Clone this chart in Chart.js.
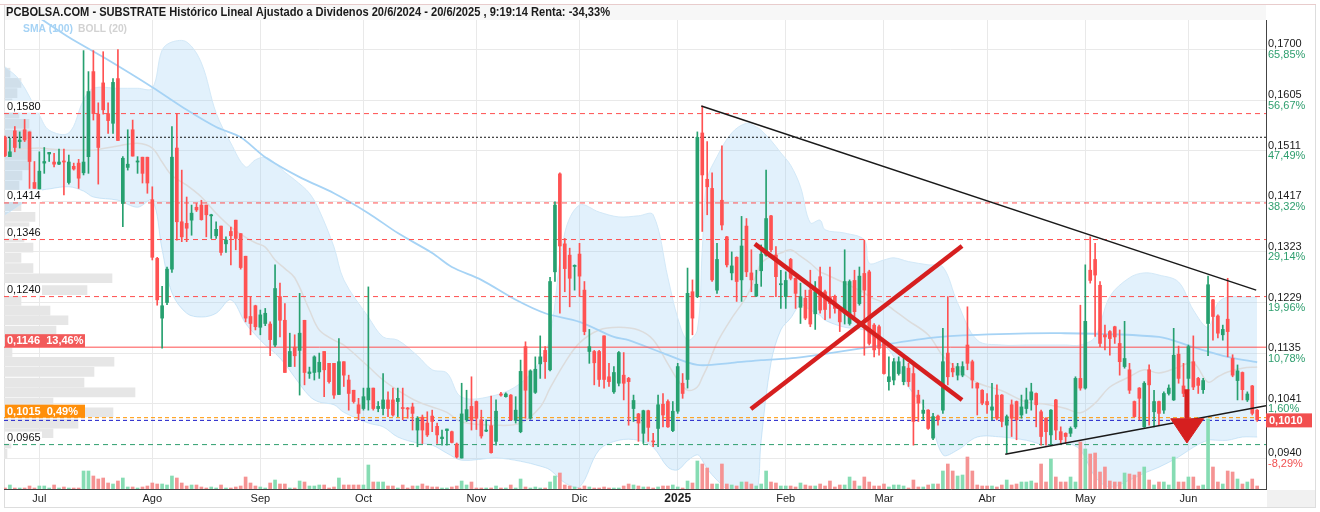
<!DOCTYPE html>
<html>
<head>
<meta charset="utf-8">
<script src="https://cdn.jsdelivr.net/npm/chart.js@4.4.1/dist/chart.umd.min.js"></script>
<style>
  html, body { margin: 0; padding: 0; background: #fff; }
  #wrap { width: 1320px; height: 512px; }
</style>
</head>
<body>
<div id="wrap"><canvas id="chart" width="1320" height="512"></canvas></div>
<script>
// Daily candles, 20/6/2024 - 20/6/2025 (index = trading day)
const opens = [
  0.1536,0.1500,0.1548,0.1528,0.1550,0.1546,0.1452,0.1440,0.1488,0.1505,
  0.1490,0.1486,0.1492,0.1452,0.1482,0.1488,0.1470,0.1500,0.1658,0.1579,
  0.1637,0.1580,0.1562,0.1645,0.1413,0.1480,0.1550,0.1490,0.1499,0.1499,
  0.1420,0.1311,0.1200,0.1229,0.1291,0.1516,0.1379,0.1376,0.1382,0.1406,
  0.1410,0.1410,0.1390,0.1353,0.1371,0.1338,0.1361,0.1382,0.1357,0.1315,
  0.1203,0.1223,0.1183,0.1190,0.1189,0.1150,0.1240,0.1196,0.1110,0.1146,
  0.1140,0.1196,0.1097,0.1099,0.1100,0.1138,0.1116,0.1116,0.1058,0.1119,
  0.1085,0.1066,0.1039,0.1032,0.1048,0.1070,0.1032,0.1032,0.1048,0.1048,
  0.1045,0.1033,0.1033,0.1035,0.0992,0.1016,0.1005,0.1018,0.0999,0.0976,
  0.0991,0.0989,0.0966,0.0940,0.1011,0.1036,0.1045,0.1011,0.0990,0.1000,
  0.0971,0.1059,0.1054,0.1057,0.1010,0.0989,0.1147,0.1014,0.1062,0.1115,
  0.1140,0.1104,0.1286,0.1468,0.1338,0.1317,0.1296,0.1319,0.1252,0.1138,
  0.1138,0.1138,0.1167,0.1091,0.1063,0.1079,0.1094,0.1088,0.1032,0.1022,
  0.0986,0.1028,0.0971,0.0995,0.1040,0.1045,0.0991,0.1027,0.1079,0.1086,
  0.1249,0.1240,0.1544,0.1458,0.1441,0.1252,0.1419,0.1351,0.1284,0.1313,
  0.1271,0.1371,0.1284,0.1241,0.1288,0.1317,0.1390,0.1317,0.1262,0.1240,
  0.1309,0.1274,0.1220,0.1237,0.1252,0.1208,0.1277,0.1249,0.1240,0.1239,
  0.1215,0.1209,0.1190,0.1270,0.1227,0.1283,0.1286,0.1187,0.1184,0.1153,
  0.1082,0.1085,0.1097,0.1082,0.1107,0.1097,0.1057,0.1023,0.1029,0.0977,
  0.1018,0.1029,0.1135,0.1107,0.1094,0.1094,0.1150,0.1119,0.1079,0.1066,
  0.1045,0.1029,0.1057,0.1057,0.1001,0.1039,0.1045,0.1020,0.1032,0.1048,
  0.1060,0.1026,0.1014,0.0983,0.1048,0.0989,0.0986,0.0986,0.0998,0.1088,
  0.1070,0.1289,0.1309,0.1261,0.1169,0.1175,0.1184,0.1153,0.1110,0.1104,
  0.1045,0.1070,0.0998,0.1104,0.1026,0.1045,0.1029,0.1060,0.1048,0.1133,
  0.1074,0.1088,0.1119,0.1088,0.1067,0.1190,0.1234,0.1204,0.1169,0.1198,
  0.1125,0.1084,0.1099,0.1048,0.1074,0.1029
];
const highs = [
  0.1538,0.1534,0.1556,0.1546,0.1569,0.1546,0.1491,0.1509,0.1517,0.1508,
  0.1506,0.1514,0.1514,0.1503,0.1488,0.1495,0.1697,0.1658,0.1697,0.1600,
  0.1695,0.1600,0.1645,0.1699,0.1500,0.1550,0.1568,0.1500,0.1499,0.1499,
  0.1444,0.1313,0.1259,0.1295,0.1556,0.1580,0.1475,0.1425,0.1410,0.1413,
  0.1419,0.1410,0.1393,0.1379,0.1371,0.1351,0.1369,0.1382,0.1357,0.1315,
  0.1240,0.1224,0.1215,0.1218,0.1193,0.1299,0.1265,0.1227,0.1172,0.1169,
  0.1246,0.1196,0.1109,0.1130,0.1135,0.1138,0.1116,0.1116,0.1162,0.1119,
  0.1094,0.1066,0.1051,0.1070,0.1258,0.1070,0.1045,0.1097,0.1063,0.1070,
  0.1070,0.1070,0.1034,0.1042,0.1017,0.1020,0.1026,0.1029,0.1005,0.0992,
  0.0994,0.0990,0.0968,0.1079,0.1066,0.1091,0.1046,0.1029,0.1011,0.1055,
  0.1048,0.1062,0.1061,0.1058,0.1054,0.1122,0.1156,0.1104,0.1128,0.1167,
  0.1147,0.1276,0.1416,0.1470,0.1348,0.1330,0.1299,0.1339,0.1268,0.1179,
  0.1140,0.1140,0.1167,0.1116,0.1110,0.1138,0.1136,0.1090,0.1057,0.1023,
  0.1029,0.1029,0.0986,0.1057,0.1060,0.1048,0.1045,0.1116,0.1097,0.1293,
  0.1271,0.1546,0.1594,0.1528,0.1470,0.1339,0.1520,0.1352,0.1323,0.1314,
  0.1389,0.1385,0.1327,0.1289,0.1336,0.1475,0.1391,0.1333,0.1289,0.1286,
  0.1311,0.1275,0.1265,0.1252,0.1289,0.1268,0.1295,0.1252,0.1295,0.1243,
  0.1221,0.1327,0.1271,0.1289,0.1295,0.1345,0.1289,0.1190,0.1187,0.1159,
  0.1128,0.1125,0.1128,0.1128,0.1116,0.1116,0.1066,0.1048,0.1030,0.1023,
  0.1020,0.1181,0.1240,0.1116,0.1116,0.1119,0.1221,0.1122,0.1080,0.1067,
  0.1060,0.1079,0.1076,0.1058,0.1020,0.1048,0.1046,0.1057,0.1070,0.1079,
  0.1061,0.1029,0.1015,0.1030,0.1049,0.0998,0.0987,0.0998,0.1091,0.1224,
  0.1299,0.1351,0.1339,0.1268,0.1187,0.1177,0.1185,0.1178,0.1194,0.1116,
  0.1046,0.1071,0.1082,0.1113,0.1066,0.1046,0.1063,0.1076,0.1181,0.1148,
  0.1116,0.1150,0.1167,0.1090,0.1088,0.1278,0.1235,0.1206,0.1187,0.1274,
  0.1132,0.1113,0.1100,0.1063,0.1075,0.1030
];
const lows = [
  0.1500,0.1500,0.1509,0.1516,0.1528,0.1441,0.1441,0.1440,0.1469,0.1491,
  0.1481,0.1485,0.1429,0.1449,0.1475,0.1441,0.1466,0.1469,0.1568,0.1449,
  0.1579,0.1543,0.1543,0.1530,0.1370,0.1475,0.1501,0.1469,0.1451,0.1432,
  0.1308,0.1224,0.1144,0.1225,0.1285,0.1345,0.1342,0.1342,0.1354,0.1398,
  0.1382,0.1351,0.1348,0.1348,0.1317,0.1322,0.1299,0.1327,0.1291,0.1193,
  0.1169,0.1178,0.1169,0.1186,0.1130,0.1147,0.1165,0.1099,0.1110,0.1110,
  0.1057,0.1076,0.1088,0.1085,0.1088,0.1054,0.1079,0.1051,0.1058,0.1073,
  0.1029,0.1042,0.1011,0.1029,0.1029,0.1029,0.1026,0.1020,0.1017,0.1018,
  0.1017,0.1011,0.1014,0.0992,0.0961,0.0967,0.0980,0.0989,0.0967,0.0964,
  0.0964,0.0968,0.0940,0.0940,0.1008,0.0992,0.0993,0.0977,0.0989,0.0949,
  0.0964,0.1055,0.1053,0.1010,0.1005,0.0987,0.1014,0.1012,0.1060,0.1088,
  0.1088,0.1102,0.1268,0.1209,0.1249,0.1221,0.1252,0.1240,0.1169,0.1116,
  0.1076,0.1073,0.1070,0.1073,0.1060,0.1074,0.1048,0.1001,0.1008,0.0971,
  0.0967,0.0971,0.0961,0.0961,0.0998,0.0997,0.0989,0.1023,0.1051,0.1070,
  0.1169,0.1238,0.1361,0.1392,0.1268,0.1246,0.1364,0.1295,0.1271,0.1231,
  0.1231,0.1277,0.1249,0.1240,0.1259,0.1315,0.1323,0.1240,0.1218,0.1218,
  0.1271,0.1218,0.1190,0.1197,0.1184,0.1179,0.1209,0.1197,0.1200,0.1209,
  0.1175,0.1189,0.1187,0.1203,0.1224,0.1131,0.1150,0.1128,0.1131,0.1096,
  0.1066,0.1076,0.1094,0.1076,0.1073,0.0964,0.1008,0.1011,0.0993,0.0974,
  0.1001,0.1023,0.1076,0.1091,0.1085,0.1091,0.1104,0.1070,0.1020,0.1039,
  0.1023,0.1011,0.1011,0.0998,0.0949,0.0980,0.0974,0.1014,0.1023,0.1029,
  0.0998,0.0964,0.0964,0.0964,0.0974,0.0967,0.0967,0.0980,0.0995,0.1066,
  0.1068,0.1265,0.1166,0.1147,0.1141,0.1131,0.1153,0.1094,0.1107,0.1060,
  0.1016,0.1011,0.0997,0.1001,0.0998,0.1001,0.1023,0.1057,0.1047,0.1079,
  0.1054,0.1066,0.1067,0.1060,0.1060,0.1130,0.1159,0.1163,0.1159,0.1128,
  0.1091,0.1048,0.1048,0.1045,0.1020,0.1008
];
const closes = [
  0.1502,0.1509,0.1517,0.1531,0.1531,0.1491,0.1441,0.1473,0.1491,0.1508,
  0.1486,0.1490,0.1490,0.1490,0.1477,0.1460,0.1490,0.1621,0.1580,0.1517,
  0.1587,0.1567,0.1638,0.1530,0.1497,0.1486,0.1501,0.1492,0.1469,0.1451,
  0.1313,0.1234,0.1223,0.1291,0.1499,0.1379,0.1351,0.1367,0.1395,0.1401,
  0.1383,0.1392,0.1392,0.1365,0.1322,0.1345,0.1353,0.1348,0.1294,0.1200,
  0.1190,0.1184,0.1206,0.1209,0.1160,0.1255,0.1196,0.1099,0.1138,0.1130,
  0.1172,0.1099,0.1100,0.1128,0.1118,0.1104,0.1082,0.1057,0.1119,0.1094,
  0.1060,0.1045,0.1023,0.1054,0.1070,0.1032,0.1036,0.1048,0.1032,0.1020,
  0.1051,0.1032,0.1031,0.1023,0.1014,0.0992,0.0983,0.1008,0.0983,0.0979,
  0.0994,0.0969,0.0942,0.1022,0.1030,0.1010,0.1014,0.0981,0.0992,0.0950,
  0.1027,0.1057,0.1059,0.1011,0.1029,0.1101,0.1066,0.1102,0.1105,0.1128,
  0.1119,0.1268,0.1410,0.1334,0.1292,0.1274,0.1298,0.1278,0.1175,0.1147,
  0.1117,0.1086,0.1086,0.1082,0.1099,0.1136,0.1079,0.1082,0.1047,0.1005,
  0.1028,0.0997,0.0970,0.1039,0.1020,0.0998,0.1027,0.1110,0.1060,0.1246,
  0.1200,0.1536,0.1466,0.1444,0.1271,0.1309,0.1373,0.1299,0.1297,0.1268,
  0.1334,0.1286,0.1271,0.1263,0.1319,0.1385,0.1327,0.1277,0.1264,0.1270,
  0.1274,0.1246,0.1240,0.1200,0.1189,0.1249,0.1215,0.1216,0.1227,0.1218,
  0.1193,0.1268,0.1268,0.1212,0.1278,0.1252,0.1153,0.1141,0.1144,0.1097,
  0.1091,0.1119,0.1119,0.1110,0.1082,0.1008,0.1042,0.1029,0.0995,0.1017,
  0.1011,0.1119,0.1091,0.1100,0.1110,0.1110,0.1116,0.1085,0.1070,0.1042,
  0.1039,0.1035,0.1014,0.1008,0.1017,0.1014,0.1011,0.1035,0.1048,0.1063,
  0.1039,0.0980,0.0989,0.1029,0.0992,0.0974,0.0980,0.0995,0.1088,0.1070,
  0.1194,0.1270,0.1280,0.1153,0.1165,0.1162,0.1165,0.1119,0.1125,0.1066,
  0.1017,0.1051,0.1079,0.1076,0.1045,0.1023,0.1060,0.1070,0.1131,0.1088,
  0.1060,0.1147,0.1072,0.1075,0.1084,0.1262,0.1203,0.1172,0.1179,0.1175,
  0.1094,0.1102,0.1067,0.1059,0.1023,0.1011
];
// Volume (relative units)
const volumes = [
  1,4,1,1,1,3,1,3,3,1,  4,1,2,1,1,1,18,18,13,10,  11,6,5,8,11,2,2,1,2,3,
  6,5,5,4,13,11,6,3,4,4,  2,1,2,1,4,1,1,2,3,12,  6,3,2,1,6,9,5,5,1,1,
  8,7,3,3,4,4,1,2,11,4,  4,4,4,4,24,7,7,7,3,3,  1,4,1,3,3,5,3,2,2,1,
  1,2,3,8,4,7,1,1,1,1,  3,1,1,4,1,10,2,1,2,1,  1,7,13,16,4,3,2,1,3,2,
  1,1,2,1,1,1,3,5,4,3,  2,2,1,2,3,3,4,2,1,8,  6,28,25,21,5,5,25,5,4,3,
  7,7,5,3,5,18,7,6,3,3,  3,2,6,4,3,3,5,3,8,2,  4,4,12,8,3,12,7,3,3,5,
  2,4,4,3,1,9,2,2,4,5,  5,18,25,18,13,14,32,18,4,3,  3,3,2,4,9,4,5,7,7,8,
  6,25,7,30,12,7,7,12,7,47,  40,35,36,17,22,8,7,7,16,15,  14,17,22,9,4,7,7,4,32,7,
  7,12,12,3,4,70,22,7,5,18,  17,10,5,7,10,3
];

const monthTickIdx = [7, 30, 52, 73, 96, 117, 137, 159, 179, 200, 220, 241];
const monthLabels = ['Jul', 'Ago', 'Sep', 'Oct', 'Nov', 'Dic', '2025', 'Feb', 'Mar', 'Abr', 'May', 'Jun'];
const priceTicks = [0.1700, 0.1605, 0.1511, 0.1417, 0.1323, 0.1229, 0.1135, 0.1041, 0.0940];
const pctTicks = ['65,85%', '56,67%', '47,49%', '38,32%', '29,14%', '19,96%', '10,78%', '1,60%', '-8,29%'];

// Bollinger (20) at these trading days
const bandIdx = [0,3,7,9,13,16,18,23,27,30,32,34,37,40,43,46,49,51,53,55,57,59,62,64,67,69,74,77,80,84,
  87,90,93,100,105,109,111,114,117,121,125,129,132,135,137,139,141,142,143,145,148,151,153,154,156,158,160,162,164,166,
  167,171,175,176,179,181,184,188,191,194,198,203,208,212,216,219,222,225,229,232,235,239,242,245,247,249,252,255];
const bandUpper = [0.1667,0.1642,0.1577,0.1549,0.1544,0.1605,0.1627,0.1627,0.1627,0.1627,
  0.1698,0.1713,0.1713,0.1674,0.1581,0.1525,0.1481,0.1494,0.1499,0.1488,
  0.1471,0.1457,0.1432,0.1400,0.1332,0.1271,0.1202,0.1165,0.1159,0.1130,
  0.1104,0.1098,0.1053,0.1057,0.1079,0.1120,0.1165,0.1358,0.1410,0.1397,
  0.1388,0.1390,0.1392,0.1275,0.1200,0.1159,0.1178,0.1327,0.1457,0.1500,
  0.1544,0.1562,0.1555,0.1549,0.1530,0.1507,0.1484,0.1444,0.1377,0.1382,
  0.1364,0.1358,0.1345,0.1302,0.1308,0.1312,0.1305,0.1299,0.1295,0.1228,
  0.1159,0.1150,0.1150,0.1150,0.1150,0.1150,0.1165,0.1240,0.1275,0.1284,
  0.1280,0.1267,0.1215,0.1183,0.1228,0.1239,0.1239,0.1239];
const bandLower = [0.1392,0.1410,0.1436,0.1440,0.1444,0.1436,0.1425,0.1419,0.1406,0.1419,
  0.1327,0.1247,0.1209,0.1202,0.1209,0.1234,0.1190,0.1169,0.1150,0.1135,
  0.1115,0.1090,0.1055,0.1044,0.1039,0.1025,0.1005,0.0998,0.0979,0.0968,
  0.0964,0.0949,0.0936,0.0940,0.0934,0.0925,0.0918,0.0894,0.0886,0.0955,
  0.0973,0.0973,0.0960,0.0923,0.0918,0.0935,0.0946,0.0936,0.0920,0.0899,
  0.0875,0.0865,0.0871,0.0973,0.1117,0.1178,0.1200,0.1224,0.1215,0.1205,
  0.1196,0.1183,0.1178,0.1170,0.1150,0.1128,0.1072,0.1024,0.0946,0.0955,
  0.0979,0.0979,0.0973,0.0964,0.0968,0.0955,0.0905,0.0886,0.0899,0.0912,
  0.0923,0.0942,0.0960,0.0973,0.0973,0.0973,0.0979,0.0979];
const bandMid = [0.1512,0.1514,0.1516,0.1514,0.1512,0.1512,0.1512,0.1520,0.1525,0.1516,
  0.1490,0.1465,0.1447,0.1425,0.1395,0.1369,0.1350,0.1340,0.1332,0.1308,
  0.1292,0.1275,0.1215,0.1178,0.1159,0.1150,0.1110,0.1085,0.1066,0.1045,
  0.1035,0.1025,0.1007,0.1001,0.1005,0.1035,0.1070,0.1117,0.1154,0.1178,
  0.1183,0.1178,0.1160,0.1115,0.1085,0.1066,0.1072,0.1090,0.1109,0.1154,
  0.1200,0.1240,0.1280,0.1302,0.1315,0.1321,0.1327,0.1315,0.1302,0.1286,
  0.1282,0.1265,0.1247,0.1240,0.1228,0.1215,0.1195,0.1169,0.1130,0.1105,
  0.1080,0.1065,0.1044,0.1040,0.1032,0.1024,0.1042,0.1072,0.1091,0.1104,
  0.1098,0.1109,0.1117,0.1081,0.1091,0.1100,0.1107,0.1109];

// SMA (100)
const smaIdx = [7,13,20,30,37,43,48,53,60,67,74,80,87,91,97,104,110,117,124,127,
  134,141,148,154,161,168,176,188,198,215,235,242,249,255];
const smaVals = [0.1758,0.1722,0.1685,0.1629,0.1587,0.1555,0.1536,0.1499,0.1462,0.1432,
  0.1395,0.1358,0.1321,0.1295,0.1271,0.1234,0.1209,0.1193,0.1165,0.1159,
  0.1135,0.1113,0.1117,0.1122,0.1126,0.1135,0.1146,0.1163,0.1169,0.1172,
  0.1165,0.1146,0.1128,0.1118];

// Volume profile on the left
const profilePrices = [0.0948,0.0967,0.0986,0.1004,0.1025,0.1043,0.1062,0.1080,0.1100,0.1119,
  0.1137,0.1156,0.1177,0.1196,0.1214,0.1232,0.1252,0.1274,0.1293,0.1312,
  0.1331,0.1350,0.1369,0.1388,0.1408,0.1427,0.1446,0.1465,0.1484,0.1503,
  0.1522,0.1541,0.1561,0.1580,0.1599,0.1618,0.1637,0.1656];
const profileVols = [3,7,49,74,109,49,131,80,90,110,
  8,60,52,64,46,17,83,108,29,17,
  29,20,25,31,17,12,15,18,25,27,
  26,27,25,15,8,13,17,6];

// Horizontal levels and hand-drawn marks (trading day, price)
const levelPrices = [0.1580, 0.1536, 0.1414, 0.1346, 0.1240, 0.1146, 0.1015, 0.1010, 0.0965];
const leftTagPrices = [0.1580, 0.1414, 0.1346, 0.1240, 0.0965];
const resistanceLine = [[141.8, 0.1594], [254.8, 0.1252]];
const supportLine = [[203.7, 0.0947], [256.8, 0.1037]];
const crossDown = [[152.7, 0.1338], [194.9, 0.1048]];
const crossUp = [[151.9, 0.1031], [194.9, 0.1334]];
const arrowShaft = [[240.7, 0.1068], [240.7, 0.1013]];
const arrowHead = [[237.4, 0.1013], [244.1, 0.1013], [240.7, 0.0968], [237.4, 0.1013]];
const lastPrice = 0.1010;

const X_MIN = -0.2, X_MAX = 256.8;
const Y_MIN = 0.08825, Y_MAX = 0.17539;
const UP = '#26a06f', DOWN = '#ff5252';
const VOL_UP = '#86dcb3', VOL_DOWN = '#f59393';
const FONT = '"Liberation Sans", Arial, sans-serif';
const titleText = 'PCBOLSA.COM - SUBSTRATE Histórico Lineal Ajustado a Dividenos 20/6/2024 - 20/6/2025 , 9:19:14 Renta: -34,33%';

const fmt = v => v.toFixed(4).replace('.', ',');
const pts = arr => arr.map(p => ({ x: p[0], y: p[1] }));
const isUp = closes.map((c, i) => c >= opens[i]);

// level line styles (same order as levelPrices)
const levelStyles = [
  { color: '#ff4f4f', dash: [5, 4], width: 1 },
  { color: '#111111', dash: [2, 2], width: 1 },
  { color: '#ff4f4f', dash: [5, 4], width: 1 },
  { color: '#ff4f4f', dash: [5, 4], width: 1 },
  { color: '#ff4f4f', dash: [5, 4], width: 1 },
  { color: '#ff4f4f', dash: [], width: 1 },
  { color: '#ff9500', dash: [4, 3], width: 1 },
  { color: '#1d1dc8', dash: [4, 3], width: 1 },
  { color: '#2e9e6e', dash: [5, 4], width: 1 }
];

function lineSet(data, color, width, order, extra) {
  return Object.assign({
    type: 'line', data: data, borderColor: color, borderWidth: width,
    pointRadius: 0, fill: false, tension: 0, order: order
  }, extra || {});
}

const datasets = [];

// volume profile (horizontal bars)
datasets.push({
  type: 'bar', indexAxis: 'y', xAxisID: 'xProfile', yAxisID: 'y',
  data: profilePrices.map((p, k) => ({ x: profileVols[k], y: p })),
  backgroundColor: '#e6e6e6', barThickness: 9, grouped: false, order: 40
});

// Bollinger band (upper fills down to lower)
datasets.push(lineSet(bandIdx.map((x, k) => ({ x: x, y: bandUpper[k] })), '#d3e9f8', 1, 30,
  { fill: '+1', backgroundColor: 'rgba(150,205,245,0.28)', tension: 0.35 }));
datasets.push(lineSet(bandIdx.map((x, k) => ({ x: x, y: bandLower[k] })), '#d3e9f8', 1, 31, { tension: 0.35 }));
datasets.push(lineSet(bandIdx.map((x, k) => ({ x: x, y: bandMid[k] })), '#dcdcdc', 1.5, 29, { tension: 0.35 }));
datasets.push(lineSet(smaIdx.map((x, k) => ({ x: x, y: smaVals[k] })), '#a6d3f5', 1.8, 28, { tension: 0.3 }));

// horizontal levels
levelPrices.forEach((p, k) => {
  const s = levelStyles[k];
  datasets.push(lineSet([{ x: X_MIN, y: p }, { x: X_MAX, y: p }], s.color, s.width, 20, { borderDash: s.dash }));
});

// volume
datasets.push({
  type: 'bar', yAxisID: 'yVol',
  data: volumes.map((v, i) => ({ x: i, y: v })),
  backgroundColor: volumes.map((v, i) => isUp[i] ? VOL_UP : VOL_DOWN),
  barThickness: 3, grouped: false, order: 10
});

// candles: wick then body
datasets.push({
  type: 'bar',
  data: highs.map((h, i) => ({ x: i, y: [lows[i], h] })),
  backgroundColor: isUp.map(u => u ? UP : DOWN),
  barThickness: 1, grouped: false, order: 3
});
datasets.push({
  type: 'bar',
  data: opens.map((o, i) => ({ x: i, y: [o, closes[i]] })),
  backgroundColor: isUp.map(u => u ? UP : DOWN),
  barThickness: 3, minBarLength: 1, grouped: false, order: 2
});

// drawn marks
datasets.push(lineSet(pts(resistanceLine), '#1a1a1a', 1.5, 1));
datasets.push(lineSet(pts(supportLine), '#1a1a1a', 1.5, 1));
datasets.push(lineSet(pts(crossDown), '#d61f1f', 4.5, 0));
datasets.push(lineSet(pts(crossUp), '#d61f1f', 4.5, 0));
datasets.push(lineSet(pts(arrowShaft), '#d61f1f', 5, 0));
datasets.push(lineSet(pts(arrowHead), '#d61f1f', 1, 0, { fill: 'shape', backgroundColor: '#d61f1f' }));

const framePlugin = {
  id: 'frame',
  beforeDraw(chart) {
    const ctx = chart.ctx;
    ctx.save();
    ctx.fillStyle = '#ffffff';
    ctx.fillRect(0, 0, chart.width, chart.height);
    ctx.fillStyle = '#f7f7f7';
    ctx.fillRect(4, 5, 1262, 15);
    ctx.fillStyle = '#f1f1f1';
    ctx.fillRect(1267, 490, 48, 17);
    ctx.strokeStyle = '#e8cccc';
    ctx.lineWidth = 1;
    ctx.beginPath(); ctx.moveTo(0, 4.5); ctx.lineTo(1316, 4.5); ctx.stroke();
    ctx.strokeStyle = '#dddddd';
    ctx.beginPath();
    ctx.moveTo(4.5, 5); ctx.lineTo(4.5, 507);
    ctx.moveTo(1315.5, 5); ctx.lineTo(1315.5, 507);
    ctx.moveTo(4, 507.5); ctx.lineTo(1316, 507.5);
    ctx.stroke();
    ctx.restore();
  },
  afterDraw(chart) {
    const ctx = chart.ctx;
    const xs = chart.scales.x, ys = chart.scales.y;
    ctx.save();
    ctx.textBaseline = 'middle';

    // title, squeezed to the reference width
    ctx.font = 'bold 12px ' + FONT;
    ctx.fillStyle = '#1a1a1a';
    const tw = ctx.measureText(titleText).width;
    ctx.save();
    ctx.translate(6, 12.5);
    ctx.scale(604 / tw, 1);
    ctx.fillText(titleText, 0, 0);
    ctx.restore();

    // indicator legend
    ctx.font = 'bold 11px ' + FONT;
    ctx.fillStyle = '#a6d3f5';
    ctx.save();
    ctx.translate(23, 29);
    ctx.scale(50 / ctx.measureText('SMA (100)').width, 1);
    ctx.fillText('SMA (100)', 0, 0);
    ctx.restore();
    ctx.fillStyle = '#d2d2d2';
    ctx.save();
    ctx.translate(78, 29);
    ctx.scale(49 / ctx.measureText('BOLL (20)').width, 1);
    ctx.fillText('BOLL (20)', 0, 0);
    ctx.restore();

    // month labels
    ctx.fillStyle = '#222';
    ctx.textAlign = 'center';
    monthTickIdx.forEach((v, k) => {
      ctx.font = (monthLabels[k] === '2025' ? 'bold 12px ' : '11px ') + FONT;
      ctx.fillText(monthLabels[k], xs.getPixelForValue(v), 499);
    });

    // right axis labels
    ctx.textAlign = 'left';
    ctx.font = '11px ' + FONT;
    priceTicks.forEach((p, k) => {
      const y = ys.getPixelForValue(p);
      ctx.fillStyle = '#1a1a1a';
      ctx.fillText(fmt(p), 1268, y - 5);
      ctx.fillStyle = pctTicks[k].charAt(0) === '-' ? '#f05050' : '#2e9e6e';
      ctx.fillText(pctTicks[k], 1268, y + 5.5);
    });

    // last price tag
    const ly = ys.getPixelForValue(lastPrice);
    ctx.fillStyle = '#f24f4f';
    ctx.fillRect(1266, ly - 7, 46, 14);
    ctx.fillStyle = '#fff';
    ctx.font = 'bold 11px ' + FONT;
    ctx.fillText(fmt(lastPrice), 1269, ly + 0.5);

    // left level tags
    ctx.font = '11px ' + FONT;
    leftTagPrices.forEach(p => {
      const y = ys.getPixelForValue(p);
      ctx.fillStyle = '#fff';
      ctx.fillRect(5, y - 13, 37, 12);
      ctx.fillStyle = '#111';
      ctx.fillText(fmt(p), 7, y - 6.5);
    });
    const tags = [
      { p: 0.1146, txt: '0,1146  13,46%', bg: '#f25a5a' },
      { p: 0.1015, txt: '0,1015  0,49%', bg: '#ff8f0a' }
    ];
    ctx.font = 'bold 11px ' + FONT;
    tags.forEach(t => {
      const y = ys.getPixelForValue(t.p);
      ctx.fillStyle = t.bg;
      ctx.fillRect(5, y - 13, 80, 13);
      ctx.fillStyle = '#fff';
      ctx.fillText(t.txt, 7, y - 6);
    });
    ctx.restore();
  }
};

new Chart(document.getElementById('chart'), {
  type: 'bar',
  data: { datasets: datasets },
  plugins: [framePlugin],
  options: {
    responsive: false,
    animation: false,
    devicePixelRatio: 1,
    layout: { padding: { left: 4, right: 54, top: 20, bottom: 23 }, autoPadding: false },
    plugins: { legend: { display: false }, tooltip: { enabled: false } },
    scales: {
      x: {
        type: 'linear', min: X_MIN, max: X_MAX, offset: false,
        afterBuildTicks: s => { s.ticks = monthTickIdx.map(v => ({ value: v })); },
        ticks: { display: false },
        grid: { color: '#e9e9e9', drawTicks: false, offset: false },
        border: { display: true, color: '#444' }
      },
      y: {
        type: 'linear', position: 'right', min: Y_MIN, max: Y_MAX, offset: false, beginAtZero: false,
        afterBuildTicks: s => { s.ticks = priceTicks.map(v => ({ value: v })); },
        ticks: { display: false },
        grid: { color: '#e9e9e9', drawTicks: false, offset: false },
        border: { display: true, color: '#444' }
      },
      yVol: { type: 'linear', display: false, min: 0, max: 469, offset: false },
      xProfile: { type: 'linear', display: false, min: 0, max: 1262, offset: false }
    }
  }
});
</script>
</body>
</html>
